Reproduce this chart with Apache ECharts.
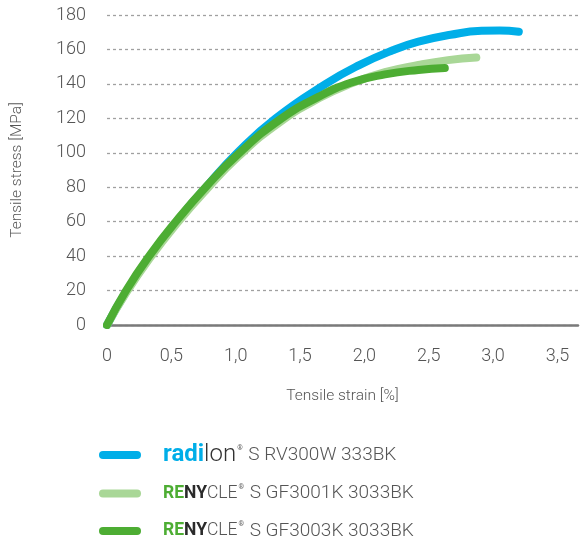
<!DOCTYPE html>
<html>
<head>
<meta charset="utf-8">
<script src="https://cdn.jsdelivr.net/npm/echarts@6/dist/echarts.min.js"></script>
<style>
  html, body { margin: 0; padding: 0; background: #fff; }
  #chart { width: 581px; height: 544px; }
</style>
</head>
<body>
<div id="chart"></div>
<script>
// Tensile stress–strain curves (strain in %, stress in MPa)
const seriesNames = [
  'radilon S RV300W 333BK',
  'RENYCLE S GF3001K 3033BK',
  'RENYCLE S GF3003K 3033BK'
];
const colors = ['#00aee8', '#a9d797', '#4dad33'];

const strainRV300W = [0, 0.145, 0.33, 0.54, 0.775, 1.02, 1.31, 1.70, 1.96, 2.22, 2.42, 2.67, 2.91, 3.05, 3.2];
const stressRV300W = [0, 18.8, 39.6, 60, 80.5, 100.5, 120, 140, 150.9, 159.5, 164.5, 168.5, 170.8, 171, 170.3];

const strainGF3001K = [0, 0.145, 0.33, 0.54, 0.775, 1.02, 1.34, 1.646, 1.9, 2.16, 2.42, 2.65, 2.87];
const stressGF3001K = [0, 18.3, 38.5, 58.7, 78.8, 97.8, 117.6, 131.6, 140.3, 146.8, 151, 153.8, 155.3];

const strainGF3003K = [0, 0.145, 0.33, 0.54, 0.775, 1.02, 1.34, 1.646, 1.9, 2.16, 2.42, 2.625];
const stressGF3003K = [0, 19.6, 40.3, 60.5, 80.7, 99.3, 119.1, 132.6, 140.8, 145.5, 148.1, 149.2];

const xTickValues = [0, 0.5, 1.0, 1.5, 2.0, 2.5, 3.0, 3.5];
const xTickLabels = ['0', '0,5', '1,0', '1,5', '2,0', '2,5', '3,0', '3,5'];

function pairs(xs, ys) {
  return xs.map((x, i) => [x, ys[i]]);
}

const curves = [
  pairs(strainRV300W, stressRV300W),
  pairs(strainGF3001K, stressGF3001K),
  pairs(strainGF3003K, stressGF3003K)
];

// Legend labels with brand styling
const legendText = {
  'radilon S RV300W 333BK': '{rb|radi}{rl|lon}{reg|®}{t| S RV300W 333BK}',
  'RENYCLE S GF3001K 3033BK': '{gb|RE}{db|NY}{cl|CLE}{reg|®}{t| S GF3001K 3033BK}',
  'RENYCLE S GF3003K 3033BK': '{gb|RE}{db|NY}{cl|CLE}{reg|®}{t| S GF3003K 3033BK}'
};

const font = 'Roboto, "Noto Sans", sans-serif';
const chart = echarts.init(document.getElementById('chart'), null, { renderer: 'canvas' });

chart.setOption({
  animation: false,
  backgroundColor: '#ffffff',
  grid: { left: 107, right: 0, top: 15, bottom: 219, containLabel: false },
  xAxis: {
    type: 'value',
    min: 0,
    max: 3.66,
    interval: 0.5,
    name: 'Tensile strain [%]',
    nameLocation: 'middle',
    nameGap: 63,
    nameTextStyle: { fontFamily: font, fontSize: 15.5, color: '#555', fontWeight: 300 },
    axisLine: { show: true, lineStyle: { color: '#7a7a7a', width: 2.5 } },
    axisTick: { show: false },
    splitLine: { show: false },
    axisLabel: {
      margin: 22,
      fontFamily: font, fontSize: 18, color: '#555', fontWeight: 300,
      formatter: function (v) {
        const i = xTickValues.findIndex(t => Math.abs(t - v) < 1e-6);
        return i >= 0 ? xTickLabels[i] : '';
      }
    }
  },
  yAxis: {
    type: 'value',
    min: 0,
    max: 180,
    interval: 20,
    name: 'Tensile stress [MPa]',
    nameLocation: 'middle',
    nameRotate: 90,
    nameGap: 82,
    nameTextStyle: { fontFamily: font, fontSize: 15.5, color: '#555', fontWeight: 300 },
    axisLine: { show: false },
    axisTick: { show: false },
    axisLabel: { margin: 21, fontFamily: font, fontSize: 18, color: '#555', fontWeight: 300 },
    splitLine: { show: true, lineStyle: { color: '#a0a0a0', width: 1.3, type: [3, 3] } }
  },
  legend: {
    orient: 'vertical',
    left: 99,
    top: 443,
    padding: 0,
    itemWidth: 42,
    itemHeight: 8,
    itemGap: 15.5,
    icon: 'path://M4,0 L38,0 A4,4 0 0 1 38,8 L4,8 A4,4 0 0 1 4,0 Z',
    data: seriesNames,
    formatter: function (name) { return legendText[name]; },
    textStyle: {
      padding: [0, 0, 0, 17],
      fontFamily: font,
      fontSize: 19,
      lineHeight: 22,
      color: '#555',
      rich: {
        rb: { fontFamily: font, fontSize: 24, lineHeight: 22, fontWeight: 'bold', color: '#00aee8' },
        rl: { fontFamily: font, fontSize: 24, lineHeight: 22, fontWeight: 300, color: '#333' },
        gb: { fontFamily: font, fontSize: 17.5, lineHeight: 22, fontWeight: 'bold', color: '#4dad33' },
        db: { fontFamily: font, fontSize: 17.5, lineHeight: 22, fontWeight: 'bold', color: '#2a2a2a' },
        cl: { fontFamily: font, fontSize: 17.5, lineHeight: 22, fontWeight: 300, color: '#555' },
        reg: { fontFamily: font, fontSize: 7, lineHeight: 22, fontWeight: 'bold', color: '#666', verticalAlign: 'top', padding: [1, 1, 0, 1] },
        t: { fontFamily: font, fontSize: 19, lineHeight: 22, fontWeight: 300, color: '#555' }
      }
    }
  },
  series: curves.map((data, i) => ({
    name: seriesNames[i],
    type: 'line',
    data: data,
    smooth: 0.5,
    showSymbol: false,
    symbol: 'none',
    color: colors[i],
    lineStyle: { color: colors[i], width: 8, cap: 'round', join: 'round' },
    z: 2 + i
  }))
});
</script>
</body>
</html>
